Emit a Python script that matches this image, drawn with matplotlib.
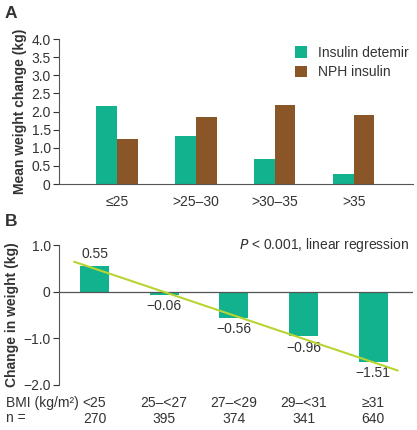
import matplotlib
matplotlib.use("Agg")
import matplotlib.pyplot as plt
import numpy as np

plt.rcParams['font.family'] = ['Liberation Sans', 'DejaVu Sans']
plt.rcParams['text.color'] = '#333333'
plt.rcParams['axes.labelcolor'] = '#333333'
plt.rcParams['xtick.color'] = '#333333'
plt.rcParams['ytick.color'] = '#333333'

# Panel A data
cats_a = ["≤25", ">25–30", ">30–35", ">35"]
detemir = [2.15, 1.32, 0.68, 0.28]
nph = [1.23, 1.85, 2.18, 1.90]
series_names = ["Insulin detemir", "NPH insulin"]
yticks_a = [0, 0.5, 1.0, 1.5, 2.0, 2.5, 3.0, 3.5, 4.0]
yticklabels_a = ["0", "0.5", "1.0", "1.5", "2.0", "2.5", "3.0", "3.5", "4.0"]

# Panel B data
bmi_cats = ["<25", "25–<27", "27–<29", "29–<31", "≥31"]
n_vals = ["270", "395", "374", "341", "640"]
change = [0.55, -0.06, -0.56, -0.96, -1.51]
change_labels = ["0.55", "−0.06", "−0.56", "−0.96", "−1.51"]
yticks_b = [1.0, 0, -1.0, -2.0]
yticklabels_b = ["1.0", "0", "−1.0", "−2.0"]

TEAL = '#12b28e'
BROWN = '#8a5527'
LINE = '#b7d433'
DARK = '#333333'
fs = 10

fig = plt.figure(figsize=(4.17, 4.30), dpi=100)

# ---------- Panel A ----------
axA = fig.add_axes([0.1415, 0.572, 0.990 - 0.1415, 0.909 - 0.572])
x = np.arange(len(cats_a))
w = 0.262
axA.bar(x - w / 2, detemir, width=w, color=TEAL, label=series_names[0])
axA.bar(x + w / 2, nph, width=w, color=BROWN, label=series_names[1])
axA.set_xlim(-0.735, 3.75)
axA.set_ylim(0, 4.0)
axA.set_yticks(yticks_a)
axA.set_yticklabels(yticklabels_a, fontsize=fs)
axA.set_xticks(x)
axA.set_xticklabels(cats_a, fontsize=fs)
axA.tick_params(axis='x', length=0, pad=8)
axA.tick_params(axis='y', length=4, width=0.8, direction='out', pad=2)
for s in ['top', 'right']:
    axA.spines[s].set_visible(False)
axA.spines['left'].set_color('#555555')
axA.spines['bottom'].set_color('#555555')
axA.set_ylabel("Mean weight change (kg)", fontsize=fs, fontweight='bold', labelpad=3)
axA.legend(loc='upper right', bbox_to_anchor=(1.025, 1.04), frameon=False, fontsize=fs,
           handlelength=0.9, handleheight=0.9, handletextpad=0.8, labelspacing=0.4)
fig.text(0.012, 0.968, "A", fontsize=12.5, fontweight='bold', color=DARK, va='center')

# ---------- Panel B ----------
axB = fig.add_axes([0.1415, 0.1047, 0.990 - 0.1415, 0.430 - 0.1047])
xb = np.arange(len(bmi_cats))
axB.bar(xb, change, width=0.415, color=TEAL)
axB.set_xlim(-0.51, 4.57)
axB.set_ylim(-2.0, 1.0)
axB.axhline(0, color='#555555', lw=0.9, zorder=3)
coef = np.polyfit(xb, change, 1)
xl = np.array([-0.29, 4.35])
axB.plot(xl, np.polyval(coef, xl), color=LINE, lw=1.5, zorder=4)
for xi, v, lab in zip(xb, change, change_labels):
    if v >= 0:
        axB.annotate(lab, (xi, v), xytext=(0, 4), textcoords='offset points',
                     ha='center', va='bottom', fontsize=fs)
    else:
        axB.annotate(lab, (xi, v), xytext=(0, -3), textcoords='offset points',
                     ha='center', va='top', fontsize=fs)
axB.set_yticks(yticks_b)
axB.set_yticklabels(yticklabels_b, fontsize=fs)
axB.tick_params(axis='y', length=4, width=0.8, direction='out', pad=2)
axB.set_xticks([])
for s in ['top', 'right', 'bottom']:
    axB.spines[s].set_visible(False)
axB.spines['left'].set_color('#555555')
axB.set_ylabel("Change in weight (kg)", fontsize=fs, fontweight='bold', labelpad=3)
axB.text(0.99, 1.0, r"$\it{P}$ < 0.001, linear regression", transform=axB.transAxes,
         ha='right', va='center', fontsize=fs)

# Category rows below panel B
trans = axB.get_xaxis_transform()
fig.text(0.015, 1 - 403 / 430, "BMI (kg/m²)", fontsize=fs, va='center', ha='left')
fig.text(0.015, 1 - 418 / 430, "n =", fontsize=fs, va='center', ha='left')
for xi, c, n in zip(xb, bmi_cats, n_vals):
    axB.text(xi, -0.13, c, transform=trans, ha='center', va='center', fontsize=fs)
    axB.text(xi, -0.24, n, transform=trans, ha='center', va='center', fontsize=fs)
fig.text(0.012, 1 - 222 / 430, "B", fontsize=12.5, fontweight='bold', color=DARK, va='center')

fig.savefig("out.png", dpi=100)
